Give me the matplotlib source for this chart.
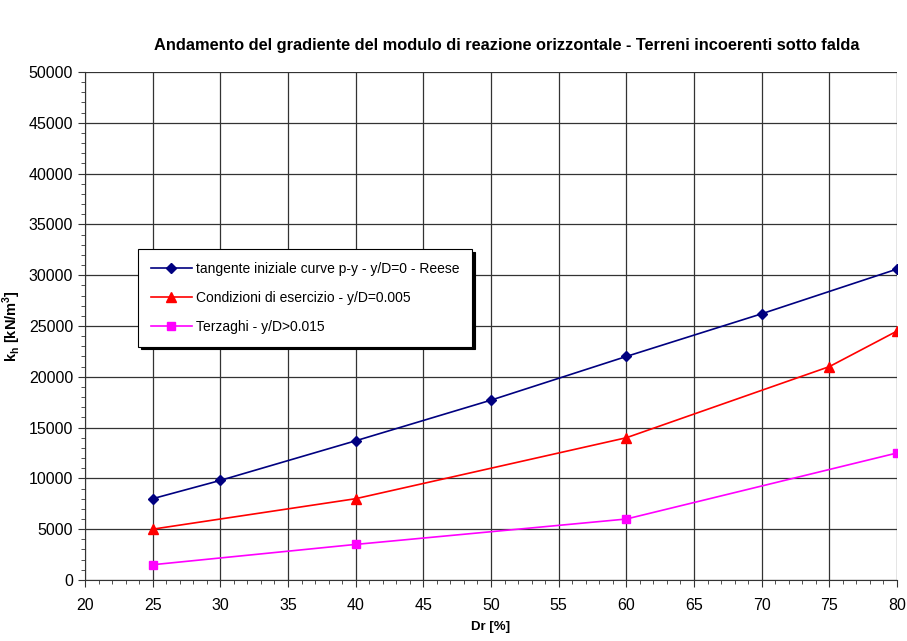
import numpy as np
import matplotlib
matplotlib.use("Agg")
import matplotlib.pyplot as plt
from matplotlib.ticker import MultipleLocator

plt.rcParams['font.family'] = ['Liberation Sans', 'DejaVu Sans']
plt.rcParams['mathtext.fontset'] = 'custom'
plt.rcParams['mathtext.rm'] = 'Liberation Sans'
plt.rcParams['mathtext.bf'] = 'Liberation Sans:bold'

# data
dr_reese = [25, 30, 40, 50, 60, 70, 80]
kh_reese = [8000, 9800, 13700, 17700, 22000, 26200, 30600]
dr_eserc = [25, 40, 60, 75, 80]
kh_eserc = [5000, 8000, 14000, 21000, 24500]
dr_terz = [25, 40, 60, 80]
kh_terz = [1500, 3500, 6000, 12500]

labels = ["tangente iniziale curve p-y - y/D=0 - Reese",
          "Condizioni di esercizio - y/D=0.005",
          "Terzaghi - y/D>0.015"]

fig = plt.figure(figsize=(9.07, 6.41), dpi=100)
ax = fig.add_axes([0.0937, 0.0952, 0.8953, 0.7925])

ax.plot(dr_reese, kh_reese, color='#000080', marker='D', markersize=5, lw=1.2, label=labels[0])
ax.plot(dr_eserc, kh_eserc, color='#ff0000', marker='^', markersize=7, lw=1.2, label=labels[1])
ax.plot(dr_terz, kh_terz, color='#ff00ff', marker='s', markersize=6, lw=1.2, label=labels[2])

ax.set_xlim(20, 80)
ax.set_ylim(0, 50000)
ax.xaxis.set_major_locator(MultipleLocator(5))
ax.xaxis.set_minor_locator(MultipleLocator(1))
ax.yaxis.set_major_locator(MultipleLocator(5000))
ax.yaxis.set_minor_locator(MultipleLocator(1000))
ax.tick_params(which='both', direction='out', labelsize=11.5, color='#333333')
ax.tick_params(which='major', length=5)
ax.tick_params(which='minor', length=3)
ax.tick_params(axis='x', pad=8)
ax.grid(True, which='major', color='#333333', lw=0.9)
ax.set_axisbelow(True)
for s in ['top', 'right']:
    ax.spines[s].set_visible(False)
ax.spines['left'].set_color('#333333')
ax.spines['bottom'].set_color('#333333')

ax.set_xlabel('Dr [%]', fontweight='bold', fontsize=9.5, labelpad=6)
ax.set_ylabel(r'k$_\mathbf{h}$ [kN/m$^\mathbf{3}$]', fontweight='bold', fontsize=10.5, labelpad=4)
fig.suptitle('Andamento del gradiente del modulo di reazione orizzontale - Terreni incoerenti sotto falda',
             fontweight='bold', fontsize=11.8, x=0.559, y=0.94)

leg = ax.legend(loc='upper left', bbox_to_anchor=(138 / 907, 1 - 249 / 641),
                bbox_transform=fig.transFigure, fontsize=10, frameon=True, fancybox=False,
                shadow={'color': 'black', 'alpha': 1.0}, edgecolor='black', borderaxespad=0,
                handlelength=3, labelspacing=1.1, borderpad=0.9, handletextpad=0.3)
leg.get_frame().set_linewidth(0.8)

fig.savefig('out.png', dpi=100)
